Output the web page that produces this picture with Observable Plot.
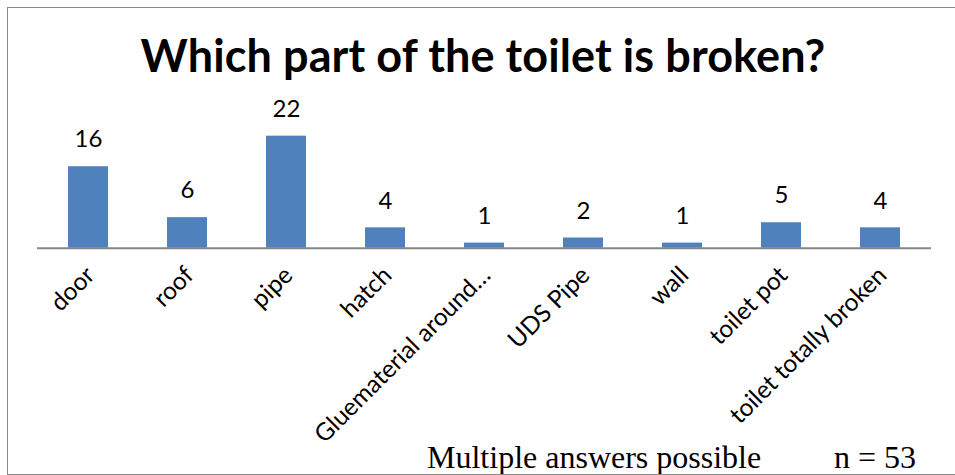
<!DOCTYPE html>
<html>
<head>
<meta charset="utf-8">
<script src="https://cdn.jsdelivr.net/npm/d3@7"></script>
<script src="https://cdn.jsdelivr.net/npm/@observablehq/plot@0.6"></script>
<style>
  html, body { margin: 0; padding: 0; background: #fff; overflow: hidden; }
  body { width: 955px; height: 475px; position: relative; }
  #frame { position: absolute; left: 7px; top: 7px; width: 980px; height: 468px; border: 1.5px solid #8a8a8a; box-sizing: border-box; z-index: 5; pointer-events: none; }
  #wrap { position: absolute; left: 0; top: 0; width: 955px; }
  #title { height: 80px; box-sizing: border-box; padding-top: 33.4px; padding-left: 11px; text-align: center; letter-spacing: 0.1px;
           font-family: Lato, "Open Sans", sans-serif; font-weight: 700; font-size: 45px; line-height: 1; color: #000; white-space: nowrap; }
  #chart svg { display: block; background: none; }
  #caption { position: absolute; left: 0; top: 440px; width: 955px; height: 35px; line-height: 35px; font-family: "Liberation Serif", "Times New Roman", serif; font-size: 32px; color: #000; white-space: nowrap; z-index: 2; }
  #caption .a { position: absolute; left: 427px; }
  #caption .b { position: absolute; left: 834px; }
</style>
</head>
<body>
<div id="frame"></div>
<div id="wrap">
  <div id="title">Which part of the toilet is broken?</div>
  <div id="chart"></div>
</div>
<div id="caption"><span class="a">Multiple answers possible</span><span class="b">n = 53</span></div>
<script>
const categories = ["door", "roof", "pipe", "hatch", "Gluematerial around…", "UDS Pipe", "wall", "toilet pot", "toilet totally broken"];
const counts = [16, 6, 22, 4, 1, 2, 1, 5, 4];

const data = categories.map((c, i) => ({category: c, count: counts[i]}));

const chart = Plot.plot({
  width: 955,
  height: 390,
  marginLeft: 37,
  marginRight: 24,
  marginTop: 40.4,
  marginBottom: 222.3,
  style: {fontFamily: "Lato, 'Open Sans', sans-serif", fontSize: "24px", color: "#000", background: "none"},
  x: {domain: categories, paddingInner: 0.6, paddingOuter: 0.3, axis: null},
  y: {domain: [0, 25], axis: null},
  marks: [
    Plot.barY(data, {x: "category", y: "count", fill: "#4F81BD"}),
    Plot.ruleY([0], {stroke: "#868686", strokeWidth: 2}),
    Plot.text(data, {x: "category", y: "count", text: d => String(d.count), dy: -27, fill: "#000", fontSize: 24}),
    Plot.text(data, {x: "category", frameAnchor: "bottom", text: "category", rotate: -45, textAnchor: "end", lineAnchor: "middle", dx: 2, dy: 23, fill: "#000", fontSize: 24.5})
  ]
});
document.getElementById("chart").appendChild(chart);
</script>
</body>
</html>
